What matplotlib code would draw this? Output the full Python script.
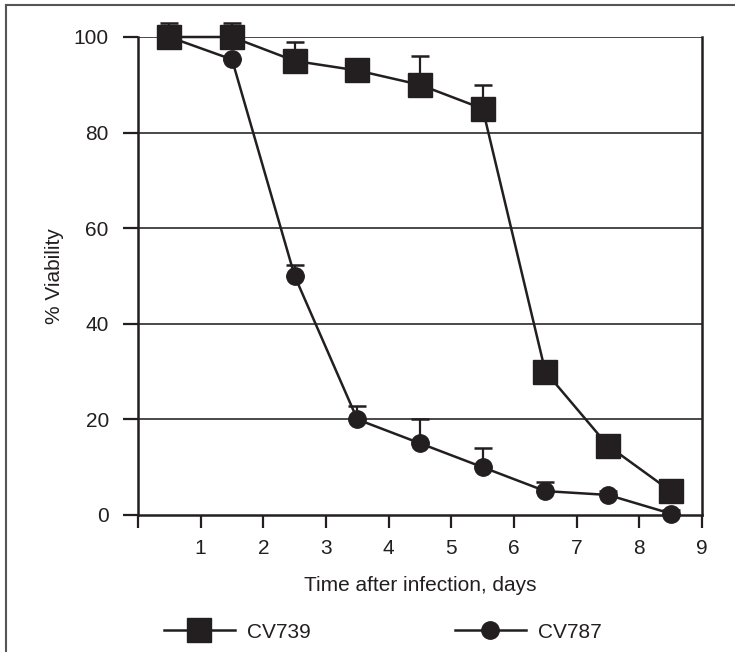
import numpy as np
import matplotlib
matplotlib.use("Agg")
import matplotlib.pyplot as plt
from matplotlib.lines import Line2D

plt.rcParams['font.family'] = ['Liberation Sans', 'DejaVu Sans']

# data
days = [0.5, 1.5, 2.5, 3.5, 4.5, 5.5, 6.5, 7.5, 8.5]
cv739 = [100, 100, 95, 93, 90, 85, 30, 14.5, 5]
cv739_top = [103, 103, 99, 93, 96, 90, 30, 14.5, 5]
cv787 = [100, 95.3, 50, 20, 15, 10, 5, 4.2, 0.3]
cv787_top = [100, 95.3, 52.2, 22.8, 20, 14, 7, 5, 1]

ink = '#231f20'
fs = 15

fig = plt.figure(figsize=(7.35, 6.52), dpi=100)
ax = fig.add_axes([138 / 735, 1 - 515 / 652, (702 - 138) / 735, (515 - 37) / 652])

# grid lines at 20..100
for yv in [20, 40, 60, 80, 100]:
    ax.axhline(yv, color='#3a3a3a', lw=1.3, zorder=1)


def draw(vals, tops, marker, ms, z):
    vals = np.array(vals)
    upper = np.array(tops) - vals
    eb = ax.errorbar(days, vals, yerr=[np.zeros_like(upper), upper], fmt='none',
                     ecolor=ink, elinewidth=1.6, capsize=6.8, capthick=1.8, zorder=z)
    for art in eb.lines[1] + eb.lines[2]:
        art.set_clip_on(False)
    ax.plot(days, vals, color=ink, lw=1.8, marker=marker, ms=ms,
            mfc=ink, mec=ink, zorder=z + 0.5, clip_on=False)


draw(cv787, cv787_top, 'o', 12.5, 3)
draw(cv739, cv739_top, 's', 17, 5)

ax.set_xlim(0, 9)
ax.set_ylim(0, 100)
ax.set_xticks(range(10))
ax.set_xticklabels([''] + [str(i) for i in range(1, 10)])
ax.set_yticks([0, 20, 40, 60, 80, 100])

for side in ['left', 'bottom', 'right']:
    ax.spines[side].set_linewidth(1.8)
    ax.spines[side].set_color(ink)
ax.spines['top'].set_visible(False)

ax.tick_params(axis='x', direction='out', length=9, width=1.6, color=ink,
               labelsize=fs, labelcolor=ink, pad=8)
ax.tick_params(axis='y', direction='out', length=11, width=1.6, color=ink,
               labelsize=fs, labelcolor=ink, pad=10)

ax.set_xlabel('Time after infection, days', fontsize=fs, color=ink, labelpad=13)
ax.set_ylabel('% Viability', fontsize=fs, color=ink, labelpad=7)

# legend below the axes
h1 = Line2D([], [], color=ink, lw=1.8, marker='s', ms=17.5, mfc=ink, mec=ink)
h2 = Line2D([], [], color=ink, lw=1.8, marker='o', ms=12.5, mfc=ink, mec=ink)
fig.legend([h1, h2], ['CV739', 'CV787'], loc='center',
           bbox_to_anchor=(383 / 735, 1 - 632 / 652), ncol=2, frameon=False,
           fontsize=fs, handlelength=3.4, handletextpad=0.6,
           columnspacing=6.9, labelcolor=ink)

# outer frame (left and top edges only)
fig.add_artist(Line2D([6 / 735, 6 / 735], [0, 1 - 5 / 652], color='#555555', lw=1.5,
                      transform=fig.transFigure))
fig.add_artist(Line2D([6 / 735, 1], [1 - 5 / 652, 1 - 5 / 652], color='#555555', lw=1.5,
                      transform=fig.transFigure))

fig.savefig('out.png', dpi=100)
